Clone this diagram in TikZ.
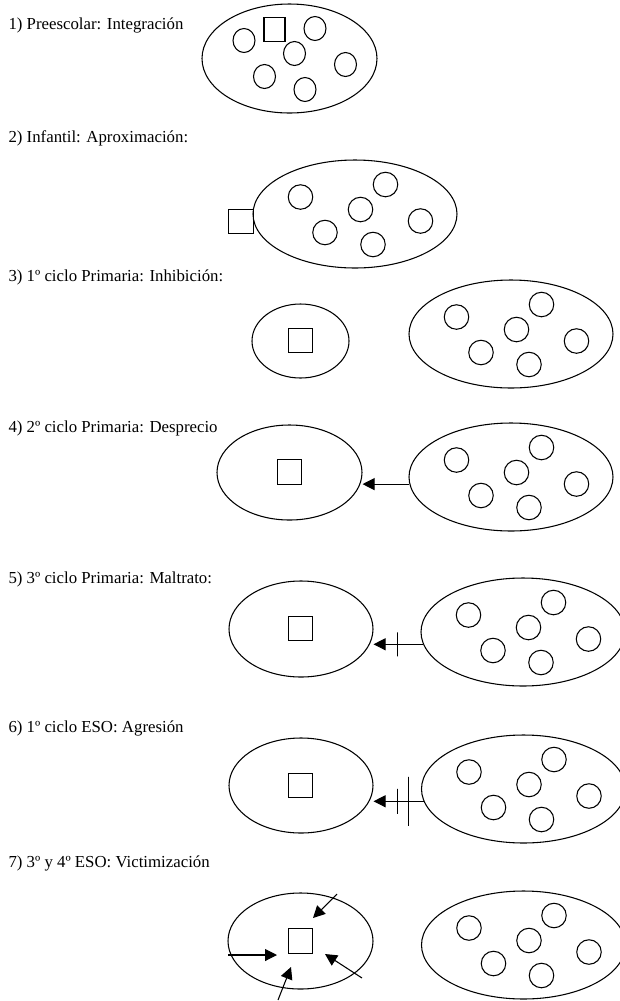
\documentclass[tikz,border=0pt]{standalone}
\usepackage{fontspec}
\setmainfont{Liberation Serif}
\usetikzlibrary{shapes.geometric,arrows.meta}
\def\px{0.75pt}
\begin{document}
\begin{tikzpicture}[x=\px, y=-\px, line width=0.8pt,
  lbl/.style={anchor=base west, inner sep=0pt, font=\fontsize{12.6}{15}\selectfont},
  grp/.style={ellipse, draw, inner sep=0pt, minimum width=204*\px, minimum height=108*\px},
  vic/.style={ellipse, draw, inner sep=0pt, minimum width=145*\px, minimum height=95*\px},
  kid/.style={ellipse, draw, inner sep=0pt, minimum width=24.5*\px, minimum height=24.5*\px},
  sqbox/.style={rectangle, draw, inner sep=0pt, minimum width=24.5*\px, minimum height=24.5*\px},
  tick/.style={rectangle, draw, inner sep=0pt, minimum width=0pt, minimum height=#1*\px},
  arr/.style={-{Triangle[length=12*\px, width=12*\px]}}]
\useasboundingbox[fill=white] (0,0) rectangle (619,1001);
% 1) Preescolar
\node[lbl] (lab1) at (8,29) {1) Preescolar: Integración};
\node[grp, minimum width=175*\px, minimum height=109*\px] (grp1) at (289.5,58.5) {};
\node[sqbox, minimum width=21*\px, minimum height=24*\px] (sq1) at (274.5,29.5) {};
\node[kid, minimum width=22*\px, minimum height=24*\px] (k11) at (244,40.5) {};
\node[kid, minimum width=22*\px, minimum height=24*\px] (k12) at (315,28.5) {};
\node[kid, minimum width=22*\px, minimum height=24*\px] (k13) at (294.5,53.5) {};
\node[kid, minimum width=22*\px, minimum height=24*\px] (k14) at (345.5,64.5) {};
\node[kid, minimum width=22*\px, minimum height=24*\px] (k15) at (264.5,76.5) {};
\node[kid, minimum width=22*\px, minimum height=24*\px] (k16) at (305,89.5) {};
% 2) Infantil
\node[lbl] (lab2) at (8,142) {2) Infantil: Aproximación:};
\node[grp] (grp2) at (355,214) {};
\node[kid] (k21) at (300.5,197) {};
\node[kid] (k22) at (385.5,184.5) {};
\node[kid] (k23) at (360.5,209.5) {};
\node[kid] (k24) at (420.5,221) {};
\node[kid] (k25) at (325,232.5) {};
\node[kid] (k26) at (373,244.5) {};
\node[sqbox] (sq2) at (241,221.5) {};
% 3) 1o ciclo Primaria
\node[lbl] (lab3) at (8,281) {3) 1º ciclo Primaria: Inhibición:};
\node[vic, minimum width=97*\px, minimum height=74*\px] (vic3) at (300.5,341) {};
\node[sqbox] (sq3) at (300.5,340.5) {};
\node[grp] (grp3) at (511,334) {};
\node[kid] (k31) at (456.5,317) {};
\node[kid] (k32) at (541.5,304.5) {};
\node[kid] (k33) at (516.5,329.5) {};
\node[kid] (k34) at (576.5,341) {};
\node[kid] (k35) at (481,352.5) {};
\node[kid] (k36) at (529,364.5) {};
% 4) 2o ciclo Primaria
\node[lbl] (lab4) at (8,432) {4) 2º ciclo Primaria: Desprecio};
\node[vic] (vic4) at (289.5,472.5) {};
\node[sqbox] (sq4) at (289.5,472) {};
\node[grp] (grp4) at (511,477) {};
\node[kid] (k41) at (456.5,460) {};
\node[kid] (k42) at (541.5,447.5) {};
\node[kid] (k43) at (516.5,472.5) {};
\node[kid] (k44) at (576.5,484) {};
\node[kid] (k45) at (481,495.5) {};
\node[kid] (k46) at (529,507.5) {};
\draw[arr] (grp4.184) -- (vic4.east |- grp4.184);
% 5) 3o ciclo Primaria
\node[lbl] (lab5) at (8,583) {5) 3º ciclo Primaria: Maltrato:};
\node[vic, minimum width=144*\px, minimum height=96*\px] (vic5) at (301,629) {};
\node[sqbox] (sq5) at (300.5,628.5) {};
\node[grp] (grp5) at (523,632) {};
\node[kid] (k51) at (468.5,615) {};
\node[kid] (k52) at (553.5,602.5) {};
\node[kid] (k53) at (528.5,627.5) {};
\node[kid] (k54) at (588.5,639) {};
\node[kid] (k55) at (493,650.5) {};
\node[kid] (k56) at (541,662.5) {};
\draw[arr] (grp5.187) -- node[tick=24, pos=0.52] {} (vic5.east |- grp5.187);
% 6) 1o ciclo ESO
\node[lbl] (lab6) at (8,732) {6) 1º ciclo ESO: Agresión};
\node[vic, minimum width=144*\px] (vic6) at (301,785.5) {};
\node[sqbox] (sq6) at (300.5,785.5) {};
\node[grp] (grp6) at (523.5,789) {};
\node[kid] (k61) at (469,772) {};
\node[kid] (k62) at (554,759.5) {};
\node[kid] (k63) at (529,784.5) {};
\node[kid] (k64) at (589,796) {};
\node[kid] (k65) at (493.5,807.5) {};
\node[kid] (k66) at (541.5,819.5) {};
\draw[arr] (grp6.187.5) -- node[tick=49, pos=0.3] {} node[tick=25, pos=0.53] {} (vic6.east |- grp6.187.5);
% 7) 3o y 4o ESO
\node[lbl] (lab7) at (8,867) {7) 3º y 4º ESO: Victimización};
\node[vic, minimum height=96*\px] (vic7) at (300.5,941) {};
\node[sqbox] (sq7) at (300.5,941) {};
\node[grp] (grp7) at (523.5,945) {};
\node[kid] (k71) at (469,928) {};
\node[kid] (k72) at (554,915.5) {};
\node[kid] (k73) at (529,940.5) {};
\node[kid] (k74) at (589,952) {};
\node[kid] (k75) at (493.5,963.5) {};
\node[kid] (k76) at (541.5,975.5) {};
\coordinate (hit1) at (337,894);
\coordinate (hit2) at (228,955);
\coordinate (hit3) at (362,978);
\coordinate (hit4) at (278,1000);
\coordinate (aim1) at (313,918);
\coordinate (aim2) at (277,955);
\coordinate (aim3) at (325,954);
\coordinate (aim4) at (291,967);
\draw[arr] (hit1) -- (aim1);
\draw[arr] (hit2) -- (aim2);
\draw[arr] (hit3) -- (aim3);
\draw[arr] (hit4) -- (aim4);
\end{tikzpicture}
\end{document}
